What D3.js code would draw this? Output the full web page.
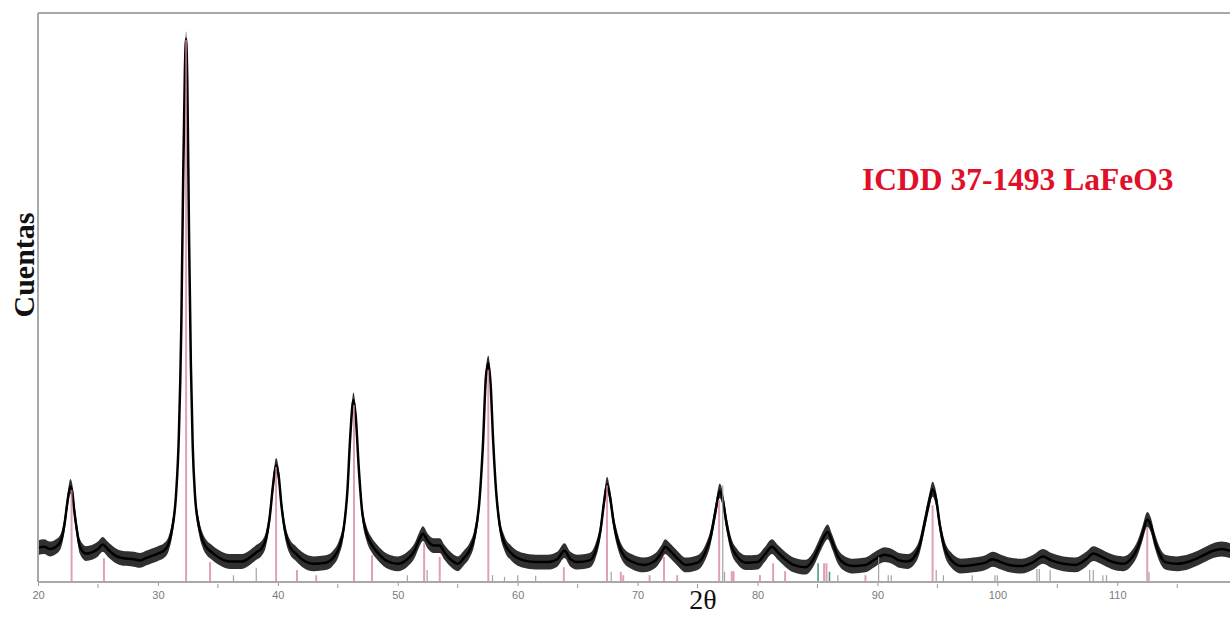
<!DOCTYPE html>
<html>
<head>
<meta charset="utf-8">
<script src="https://cdn.jsdelivr.net/npm/d3@7"></script>
<style>
  body { margin: 0; background: #fff; }
  svg { display: block; }
</style>
</head>
<body>
<div id="chart_xrd"></div>
<script>
//////// DATA ////////
var twoTheta = [20.0,20.5,21.0,21.5,21.9,22.2,22.45,22.7,22.85,23.0,23.25,23.5,24.0,24.5,25.0,25.4,25.8,26.5,27.0,28.0,28.5,29.0,29.5,30.0,30.5,30.9,31.2,31.5,31.75,31.95,32.1,32.25,32.35,32.45,32.6,32.75,32.9,33.1,33.4,33.7,34.0,34.5,35.0,36.0,37.0,37.6,38.2,38.6,39.0,39.3,39.6,39.85,40.05,40.3,40.6,41.0,41.5,42.0,43.0,44.0,44.6,45.1,45.5,45.8,46.05,46.3,46.5,46.75,47.0,47.4,47.8,48.3,49.0,50.0,50.8,51.4,51.8,52.1,52.5,53.0,53.5,53.9,54.5,55.0,55.5,56.0,56.4,56.8,57.1,57.35,57.55,57.75,57.95,58.2,58.5,58.9,59.5,60.5,61.5,62.5,63.3,63.9,64.4,65.0,66.0,66.5,66.9,67.2,67.45,67.7,68.0,68.4,68.9,69.5,70.5,71.5,72.0,72.3,72.7,73.3,74.0,75.0,75.6,76.1,76.5,76.85,77.1,77.4,77.8,78.3,79.0,80.0,80.6,81.2,81.7,82.3,83.0,84.0,84.6,85.1,85.5,85.85,86.2,86.7,87.3,88.0,89.0,89.8,90.6,91.2,91.8,92.5,93.0,93.5,93.9,94.3,94.6,94.9,95.2,95.6,96.1,97.0,98.0,99.0,99.6,100.3,101.0,102.0,103.0,103.8,104.5,105.5,106.5,107.4,108.0,108.7,109.5,110.5,111.2,111.7,112.1,112.5,112.8,113.1,113.5,114.0,115.0,116.0,117.0,118.0,118.7,119.4];
var counts = [60,62,58,62,72,100,140,168,160,130,90,62,50,52,58,66,58,46,42,40,38,42,46,50,55,68,95,150,260,450,700,900,955,880,600,380,240,150,100,75,62,52,44,36,36,42,52,58,75,110,170,205,190,135,90,62,50,40,32,34,42,60,95,160,260,320,290,200,130,85,66,52,38,32,40,55,75,85,72,64,64,52,38,32,42,56,80,140,240,360,385,345,250,160,100,68,50,38,35,35,40,55,40,35,38,55,90,140,172,150,105,68,45,36,30,38,52,62,55,42,30,34,50,80,125,160,145,105,65,45,34,35,48,62,52,40,30,26,38,60,78,88,72,45,32,28,30,40,48,45,38,36,42,62,100,140,163,145,100,60,40,28,30,34,40,35,30,28,35,45,38,32,30,40,50,44,36,32,42,60,85,110,100,75,50,35,32,36,45,55,58,55];
// half width of the noise band, in counts
var noiseBand = 13;

// ICDD 37-1493 reference lines
var refPink = [22.8,25.5,32.35,34.35,39.85,41.6,43.2,46.35,47.85,52.2,53.5,57.55,63.85,67.45,68.6,68.8,71.0,72.2,73.3,76.8,77.85,78.0,80.2,81.3,82.3,85.55,85.75,89.0,94.6,112.5];
var refPinkInt = [162,42,953,35,202,21,12,311,47,69,44,373,26,170,18,12,12,44,12,144,19,19,12,33,19,33,33,12,135,97];
var refGray = [36.3,38.2,50.8,52.45,57.9,58.9,60.0,61.5,67.8,77.1,77.25,86.7,90.1,90.9,91.15,94.9,95.5,97.9,99.8,100.0,103.3,103.5,104.4,107.7,108.0,108.8,109.1,112.65];
var refGrayInt = [12,25,12,21,12,9,12,11,18,170,18,12,44,12,12,21,12,12,12,12,23,23,21,21,21,12,12,18];
var refTeal = [85.05,86.0];
var refTealInt = [33,18];

var tickLabels = [20,30,40,50,60,70,80,90,100,110];
var minorTicks = [25,35,45,55,65,75,85,95,105,115];

//////// CANVAS ////////
var width = 1230, height = 617;
var margin = {left: 38, top: 13, bottom: 35};

var svg = d3.select("#chart_xrd").append("svg")
	.attr("width", width)
	.attr("height", height);

//////// SCALES ////////
var x = d3.scaleLinear().domain([20, 119.4]).range([margin.left, width]);
var y = d3.scaleLinear().domain([0, 1000]).range([height - margin.bottom, margin.top]);

var pts = twoTheta.map(function(t, i) { return {t: t, c: counts[i]}; });

// Noise band
var band = d3.area()
	.x(function(d) { return x(d.t); })
	.y0(function(d) { return y(d.c - noiseBand); })
	.y1(function(d) { return y(d.c + noiseBand); })
	.curve(d3.curveMonotoneX);

svg.append("path")
	.datum(pts)
	.attr("d", band)
	.style("fill", "#1a1a1a")
	.style("opacity", 0.9);

var line = d3.line()
	.x(function(d) { return x(d.t); })
	.y(function(d) { return y(d.c); })
	.curve(d3.curveMonotoneX);

svg.append("path")
	.datum(pts)
	.attr("d", line)
	.style("fill", "none")
	.style("stroke", "#000")
	.style("stroke-width", 2.5);

// Reference sticks
function sticks(pos, inten, color, w, op) {
	svg.append("g").selectAll("line")
		.data(pos).enter().append("line")
		.attr("x1", function(d) { return x(d); })
		.attr("x2", function(d) { return x(d); })
		.attr("y1", y(0))
		.attr("y2", function(d, i) { return y(inten[i]); })
		.style("stroke", color)
		.style("stroke-width", w)
		.style("opacity", op);
}
sticks(refGray, refGrayInt, "#9a9a9a", 1.2, 0.9);
sticks(refTeal, refTealInt, "#2f8a78", 1.5, 0.9);
sticks(refPink, refPinkInt, "#d9829a", 2, 0.75);

//////// AXES ////////
var frame = svg.append("g").style("stroke", "#a8a8a8").style("stroke-width", 2);
frame.append("line").attr("x1", x(20)).attr("x2", width).attr("y1", y(0)).attr("y2", y(0));
frame.append("line").attr("x1", x(20)).attr("x2", x(20)).attr("y1", margin.top).attr("y2", y(0));
frame.append("line").attr("x1", x(20)).attr("x2", width).attr("y1", margin.top).attr("y2", margin.top);

var xAxis = d3.axisBottom(x)
	.tickValues(tickLabels)
	.tickSize(3)
	.tickPadding(5)
	.tickFormat(d3.format("d"));

var gx = svg.append("g")
	.attr("transform", "translate(0," + (y(0) + 1) + ")")
	.call(xAxis);
gx.select(".domain").remove();
gx.selectAll("line").style("stroke", "#999");
gx.selectAll("text")
	.style("font-family", "Arial, 'Liberation Sans', sans-serif")
	.style("font-size", "11px")
	.style("fill", "#7a7a7a");

svg.append("g").selectAll("line")
	.data(minorTicks).enter().append("line")
	.attr("x1", function(d) { return x(d); })
	.attr("x2", function(d) { return x(d); })
	.attr("y1", y(0) + 2)
	.attr("y2", y(0) + 6)
	.style("stroke", "#999")
	.style("stroke-width", 1);

//////// LABELS ////////
svg.append("text")
	.attr("transform", "translate(34,265) rotate(-90)")
	.attr("text-anchor", "middle")
	.style("font-family", "'Liberation Serif', 'Times New Roman', serif")
	.style("font-size", "30px")
	.style("font-weight", "bold")
	.style("fill", "#111")
	.text("Cuentas");

svg.append("text")
	.attr("x", 703)
	.attr("y", 609)
	.attr("text-anchor", "middle")
	.style("font-family", "'Liberation Serif', 'Times New Roman', serif")
	.style("font-size", "28px")
	.style("fill", "#111")
	.text("2θ");

svg.append("text")
	.attr("x", 862)
	.attr("y", 190)
	.style("font-family", "'Liberation Serif', 'Times New Roman', serif")
	.style("font-size", "31.5px")
	.style("font-weight", "bold")
	.style("fill", "#e0102a")
	.text("ICDD 37-1493 LaFeO3");
</script>
</body>
</html>
